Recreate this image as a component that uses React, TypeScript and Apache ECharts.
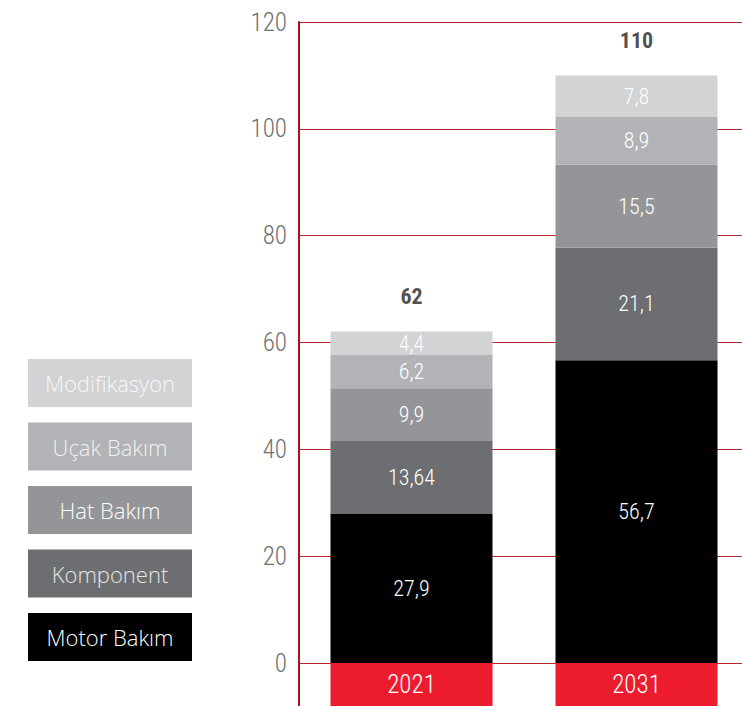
import React, { useEffect, useRef } from "react";
import * as echarts from "echarts";

const years = ["2021", "2031"];
const seriesNames = ["Motor Bakım", "Komponent", "Hat Bakım", "Uçak Bakım", "Modifikasyon"];
const motorBakim = [27.9, 56.7];
const komponent = [13.64, 21.1];
const hatBakim = [9.9, 15.5];
const ucakBakim = [6.2, 8.9];
const modifikasyon = [4.4, 7.8];
const totals = [62, 110];
const yTicks = [0, 20, 40, 60, 80, 100, 120];

const colors = ["#000000", "#6D6E71", "#939598", "#B1B3B6", "#D1D3D4"];
const legendTextColors = ["#ffffff", "#e6e6e6", "#ffffff", "#f2f2f2", "#f7f7f7"];
const condensed = "'Roboto Condensed', 'DejaVu Sans Condensed', sans-serif";

export default function App() {
  const ref = useRef<HTMLDivElement>(null);
  useEffect(() => {
    if (!ref.current) return;
    const chart = echarts.init(ref.current, undefined, { renderer: "svg" });
    const values = [motorBakim, komponent, hatBakim, ucakBakim, modifikasyon];
    const fmt = (v: number) => String(v).replace(".", ",");
    const barSeries = values.map((arr, i) => ({
      name: seriesNames[i],
      type: "bar",
      stack: "total",
      barWidth: 162,
      data: arr,
      itemStyle: { color: colors[i] },
      label: {
        show: true,
        position: "inside",
        color: "#ffffff",
        fontFamily: condensed,
        fontWeight: 300,
        fontSize: 22,
        formatter: (p: any) => fmt(p.value),
      },
      emphasis: { disabled: true },
    }));
    const legendOrder = [4, 3, 2, 1, 0];
    const rich: Record<string, any> = {};
    seriesNames.forEach((n, i) => {
      rich["s" + i] = {
        backgroundColor: colors[i],
        color: legendTextColors[i],
        width: 164,
        height: 48,
        lineHeight: 48,
        align: "center",
        fontFamily: "'Open Sans', sans-serif",
        fontWeight: 300,
        fontSize: 22,
      };
    });
    chart.setOption({
      animation: false,
      grid: { left: 299, top: 22, width: 450, height: 641 },
      legend: {
        orient: "vertical",
        left: 23,
        top: 359,
        padding: 0,
        itemGap: 15.5,
        itemWidth: 0,
        itemHeight: 0,
        icon: "rect",
        selectedMode: false,
        formatter: (name: string) => `{s${seriesNames.indexOf(name)}|${name}}`,
        textStyle: { rich, padding: 0 },
        data: legendOrder.map((i) => ({ name: seriesNames[i], itemStyle: { opacity: 0 } })),
      },
      xAxis: {
        type: "category",
        data: years,
        axisLine: { show: false },
        axisTick: { show: false },
        axisLabel: {
          margin: 0,
          color: "#ffffff",
          backgroundColor: "#ED1B2E",
          width: 162,
          height: 43,
          lineHeight: 43,
          align: "center",
          verticalAlign: "top",
          fontFamily: condensed,
          fontWeight: 300,
          fontSize: 25,
        },
      },
      yAxis: {
        type: "value",
        min: yTicks[0],
        max: yTicks[yTicks.length - 1],
        interval: 20,
        axisLine: { show: true, lineStyle: { color: "#A3111C", width: 2 } },
        axisTick: { show: false },
        axisLabel: {
          margin: 12,
          color: "#707070",
          fontFamily: condensed,
          fontWeight: 300,
          fontSize: 25,
        },
        splitLine: { lineStyle: { color: "#B72730", width: 1 } },
      },
      graphic: [
        {
          type: "line",
          shape: { x1: 299, y1: 663, x2: 299, y2: 706 },
          style: { stroke: "#A3111C", lineWidth: 2 },
          z: 10,
        },
      ],
      series: [
        ...barSeries,
        {
          name: "Toplam",
          type: "scatter",
          data: totals,
          symbolSize: 0,
          label: {
            show: true,
            position: "top",
            distance: 24,
            color: "#231F20",
            fontWeight: "bold",
            fontFamily: condensed,
            fontSize: 22,
            formatter: (p: any) => fmt(p.value),
          },
          emphasis: { disabled: true },
        },
      ],
    });
    return () => chart.dispose();
  }, []);
  return (
    <div
      style={{ position: "fixed", left: 0, top: 0, width: 742, height: 706, overflow: "hidden", background: "#fff" }}
    >
      <div ref={ref} style={{ width: 749, height: 706 }} />
    </div>
  );
}
